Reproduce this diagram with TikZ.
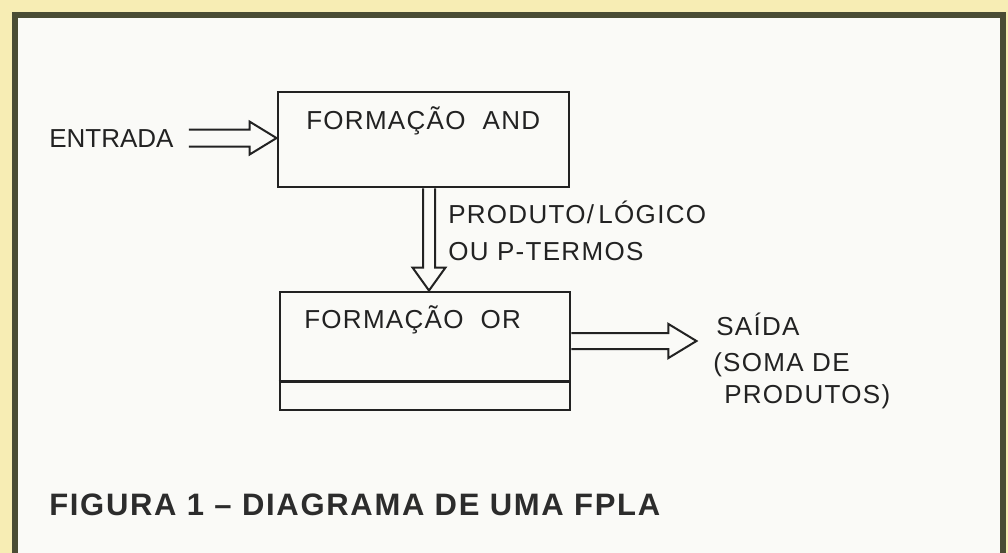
\documentclass[tikz,border=0pt]{standalone}
\usepackage{fontspec}
\usepackage{xcolor}
\usepackage{tikz}
\usetikzlibrary{calc}

\newfontfamily\labelfont[LetterSpace=5]{Liberation Sans}
\newfontfamily\entryfont{Liberation Sans}
\newfontfamily\capfont[LetterSpace=5.5]{Liberation Sans}

\definecolor{paperyellow}{RGB}{247,237,180}
\definecolor{panelwhite}{RGB}{250,250,247}
\definecolor{frameolive}{RGB}{74,76,52}
\definecolor{inkgrey}{RGB}{34,34,34}
\definecolor{capgrey}{RGB}{44,44,44}

\begin{document}
\begin{tikzpicture}[x=0.75pt,y=0.75pt,yscale=-1,xscale=1,
  blk/.style={draw=inkgrey, line width=2.2pt, inner sep=0pt},
  txt/.style={anchor=base west, inner sep=0.75pt, text=inkgrey, font=\labelfont\fontsize{19.5}{23}\selectfont},
  fat/.style={draw=inkgrey, line width=1.5pt, line join=miter},
]
\useasboundingbox (0,0) rectangle (1008,553);
\clip (0,0) rectangle (1008,553);

%Shape: Page and frame
\path [fill=paperyellow] (0,0) rectangle (1008,553);
\draw [draw=frameolive, line width=4.5pt, fill=panelwhite] (15,15) rectangle (1003,580);

%Shape: Blocks
\node [blk, minimum width=218.25pt, minimum height=71.25pt] (andbox) at (423.5,139.5) {};
\node [blk, minimum width=217.5pt, minimum height=88.5pt] (orbox) at (425,351) {};
\draw [blk] ($(orbox.south west)+(0,-30)$) -- ($(orbox.south east)+(0,-30)$);

% Text Node
\node [txt, font=\entryfont\fontsize{19.5}{23}\selectfont] (entrada) at (48,147) {ENTRADA};
% Text Node
\node [txt] (andlbl) at (305,129) {FORMAÇÃO\ \ AND};
% Text Node
\node [txt] (orlbl) at (303,328) {FORMAÇÃO\ \ OR};
% Text Node
\node [txt] (prodlbl) at (447,223) {PRODUTO/\,LÓGICO};
% Text Node
\node [txt] (ptermlbl) at (447,260) {OU P-TERMOS};
% Text Node
\node [txt] (saida) at (715,335) {SAÍDA};
% Text Node
\node [txt] (soma) at (712,371) {(SOMA DE};
% Text Node
\node [txt] (produtos) at (723,403) {PRODUTOS)};
% Text Node
\node [txt, text=capgrey, font=\capfont\bfseries\fontsize{23.25}{28}\selectfont] (caption) at (48,515) {FIGURA 1 – DIAGRAMA DE UMA FPLA};

%Shape: Hollow arrow, entrada
\coordinate (entail) at ($(entrada.east)+(14,0)$);
\coordinate (entip) at (andbox.west |- entail);
\draw [fat] ($(entail)+(0,-8.5)$) -- ($(entip)+(-27,-8.5)$) -- ($(entip)+(-27,-16.5)$) -- (entip) -- ($(entip)+(-27,16.5)$) -- ($(entip)+(-27,8.5)$) -- ($(entail)+(0,8.5)$);

%Shape: Hollow arrow, p-termos
\coordinate (prtail) at ($(andbox.south)+(5.5,0)$);
\coordinate (prtip) at (prtail |- orbox.north);
\draw [fat] ($(prtail)+(-6,0)$) -- ($(prtip)+(-6,-23)$) -- ($(prtip)+(-16.5,-23)$) -- (prtip) -- ($(prtip)+(16.5,-23)$) -- ($(prtip)+(6,-23)$) -- ($(prtail)+(6,0)$);

%Shape: Hollow arrow, saida
\coordinate (satail) at ($(orbox.east)+(0,-10)$);
\coordinate (satip) at ($(satail)+(125,0)$);
\draw [fat] ($(satail)+(0,-8)$) -- ($(satip)+(-28,-8)$) -- ($(satip)+(-28,-17)$) -- (satip) -- ($(satip)+(-28,17)$) -- ($(satip)+(-28,8)$) -- ($(satail)+(0,8)$);

\end{tikzpicture}
\end{document}
